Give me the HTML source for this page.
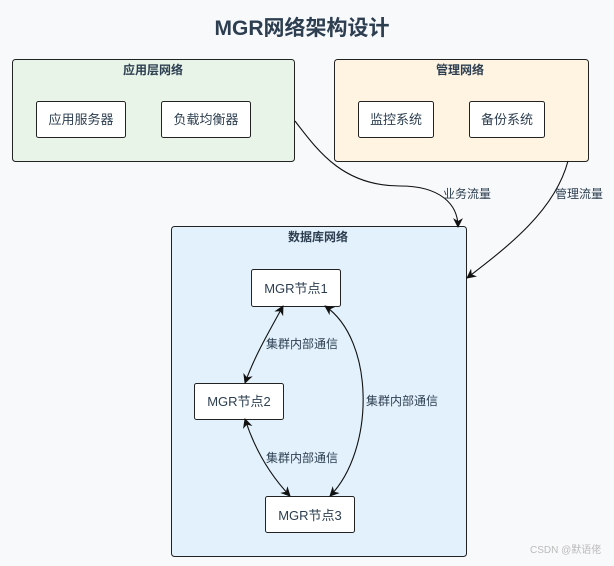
<!DOCTYPE html>
<html><head><meta charset="utf-8"><style>
body{margin:0;width:614px;height:561px;background:#f8f9fb;overflow:hidden;font-family:"Liberation Sans","Noto Sans CJK SC",sans-serif;}
svg text{font-family:"Liberation Sans","Noto Sans CJK SC",sans-serif;fill:#2c3e50}
</style></head><body>
<svg width="614" height="561" xmlns="http://www.w3.org/2000/svg">
<defs><marker id="a" viewBox="0 0 10 10" refX="9" refY="5" markerWidth="9" markerHeight="9" orient="auto-start-reverse"><path d="M0,0 L10,5 L0,10 L3,5 z" fill="#111"/></marker></defs>
<text x="302" y="35" text-anchor="middle" font-size="21" font-weight="bold">MGR网络架构设计</text>
<rect x="12.5" y="59.5" width="282" height="102" rx="3" fill="#e8f4e8" stroke="#222"/>
<text x="153" y="74" text-anchor="middle" font-size="12" font-weight="bold">应用层网络</text>
<rect x="334.5" y="59.5" width="254" height="102" rx="3" fill="#fff4e2" stroke="#222"/>
<text x="460" y="74" text-anchor="middle" font-size="12" font-weight="bold">管理网络</text>
<rect x="171.5" y="226.5" width="295" height="330" rx="3" fill="#e2f1fb" stroke="#222"/>
<text x="318" y="241" text-anchor="middle" font-size="12" font-weight="bold">数据库网络</text>
<g fill="#fff" stroke="#222">
<rect x="36.5" y="101.5" width="89" height="36" rx="2"/>
<rect x="161.5" y="101.5" width="89" height="36" rx="2"/>
<rect x="358.5" y="101.5" width="75" height="36" rx="2"/>
<rect x="469.5" y="101.5" width="75" height="36" rx="2"/>
<rect x="251.5" y="269.5" width="89" height="37" rx="2"/>
<rect x="194.5" y="383.5" width="89" height="36" rx="2"/>
<rect x="265.5" y="496.5" width="89" height="36" rx="2"/>
</g>
<g font-size="13" text-anchor="middle">
<text x="81" y="124">应用服务器</text>
<text x="206" y="124">负载均衡器</text>
<text x="396" y="124">监控系统</text>
<text x="507" y="124">备份系统</text>
<text x="296" y="293">MGR节点1</text>
<text x="239" y="406">MGR节点2</text>
<text x="310" y="520">MGR节点3</text>
</g>
<g fill="none" stroke="#111" stroke-width="1.1">
<path d="M295,157 C320,190 345,222 400,222 C440,222 458,240 458,263" marker-end="url(#a)" transform="translate(0,-36)"/>
<path d="M568,161 C555,210 510,245 467,278" marker-end="url(#a)"/>
<path d="M283,306 C270,330 255,355 245,383" marker-start="url(#a)" marker-end="url(#a)"/>
<path d="M245,419 C255,450 270,475 290,496" marker-start="url(#a)" marker-end="url(#a)"/>
<path d="M325,306 C375,340 375,450 330,496" marker-start="url(#a)" marker-end="url(#a)"/>
</g>
<g font-size="12" fill="#2c3e50">
<text x="443" y="198">业务流量</text>
<text x="555" y="198">管理流量</text>
<text x="266" y="348">集群内部通信</text>
<text x="266" y="462">集群内部通信</text>
<text x="366" y="405">集群内部通信</text>
</g>
<text x="530" y="553" font-size="10" style="fill:#bbb">CSDN @默语佬</text>
</svg>
</body></html>
